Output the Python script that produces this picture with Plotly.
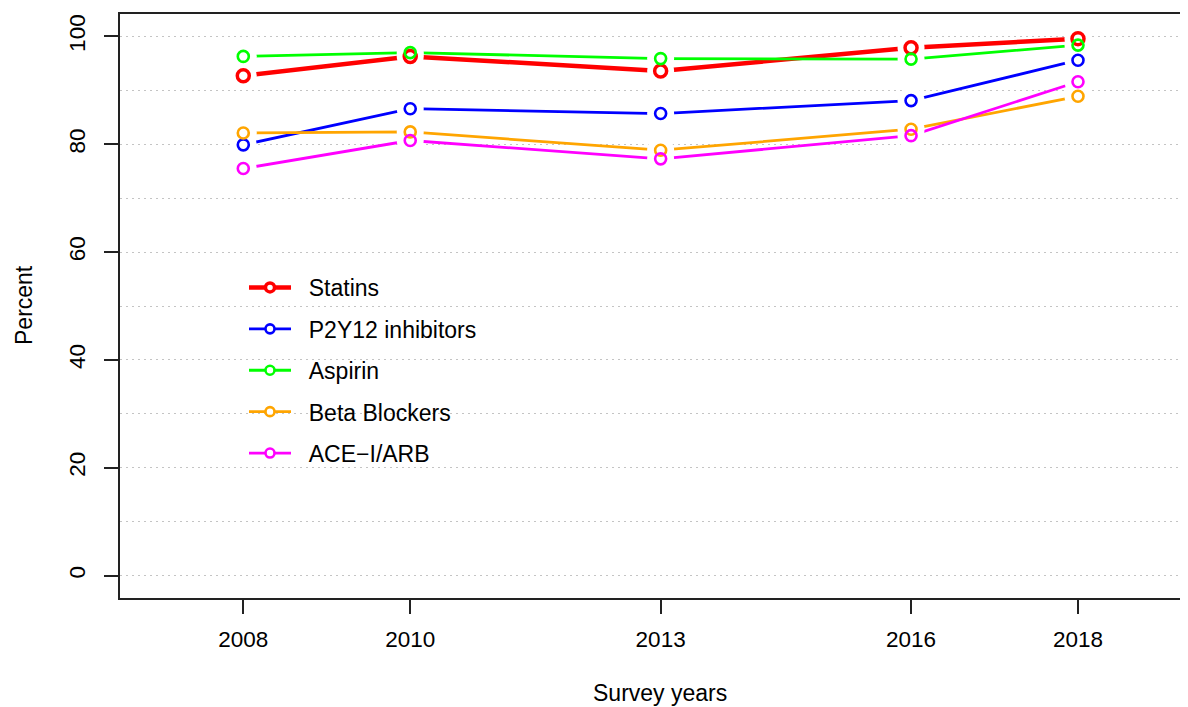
import plotly.graph_objects as go

years = [2008, 2010, 2013, 2016, 2018]
statins = [92.7, 96.3, 93.6, 97.9, 99.6]
p2y12 = [79.9, 86.6, 85.7, 88.1, 95.6]
aspirin = [96.3, 97.0, 95.9, 95.8, 98.4]
beta_blockers = [82.1, 82.3, 78.9, 82.8, 88.9]
ace_arb = [75.5, 80.7, 77.3, 81.6, 91.6]

series = [
    ("Statins", statins, "#FF0000", 4.5, 3.5, 12),
    ("P2Y12 inhibitors", p2y12, "#0000FF", 2.8, 2.6, 11),
    ("Aspirin", aspirin, "#00FF00", 2.8, 2.6, 11),
    ("Beta Blockers", beta_blockers, "#FFA500", 2.8, 2.6, 11),
    ("ACE\u2212I/ARB", ace_arb, "#FF00FF", 2.8, 2.6, 11),
]

FONT = "Liberation Sans, Arial, Helvetica, sans-serif"
W, H = 1180, 699
L, R, T, B = 112, 0, 6, 109
PW, PH = W - L - R, H - T - B


def px(xpage):
    return (xpage - 8 - L) / PW


def py(ypage):
    return (H - B - (ypage - 8)) / PH


fig = go.Figure()

for i, (name, vals, col, lw, mw, ms) in enumerate(series):
    fig.add_trace(go.Scatter(
        x=years, y=vals, name="\u00a0\u00a0" + name, mode="lines+markers",
        line=dict(color=col, width=lw),
        marker=dict(symbol="circle", size=9, color="white",
                    line=dict(color=col, width=mw)),
        legendgroup=f"g{i}",
    ))
for i, (name, vals, col, lw, mw, ms) in enumerate(series):
    fig.add_trace(go.Scatter(
        x=years, y=vals, mode="markers", showlegend=False, hoverinfo="skip",
        marker=dict(symbol="circle", size=27, color="white", line=dict(width=0)),
    ))
for i, (name, vals, col, lw, mw, ms) in enumerate(series):
    fig.add_trace(go.Scatter(
        x=years, y=vals, mode="markers", showlegend=False, hoverinfo="skip",
        marker=dict(symbol="circle-open", size=ms,
                    color=col, line=dict(color=col, width=mw)),
    ))

fig.update_layout(
    width=W, height=H,
    margin=dict(l=L, r=R, t=T, b=B),
    plot_bgcolor="white", paper_bgcolor="white",
    font=dict(family=FONT, size=22.5, color="black"),
    showlegend=True,
    legend=dict(x=px(244), y=py(266), xanchor="left", yanchor="top",
                bgcolor="rgba(0,0,0,0)", font=dict(size=23, family=FONT),
                tracegroupgap=8.5, itemwidth=42),
    xaxis=dict(
        range=[2006.523, 2019.318], tickmode="array", tickvals=years,
        ticktext=[str(y) for y in years],
        ticks="outside", ticklen=14, tickwidth=1.5, tickcolor="#222",
        ticklabelstandoff=6,
        showgrid=False, zeroline=False,
        showline=True, linecolor="#222", linewidth=1.5, mirror=True,
        tickfont=dict(size=22.5, family=FONT),
    ),
    yaxis=dict(
        range=[-4.17, 104.17], tickmode="linear", tick0=0, dtick=20,
        ticks="outside", ticklen=14, tickwidth=1.5, tickcolor="#222",
        tickangle=-90, ticklabelstandoff=10,
        showgrid=True, gridcolor="#c4c4c4", griddash="2px,4px", gridwidth=1,
        minor=dict(dtick=10, tick0=0, showgrid=True, gridcolor="#c4c4c4",
                   griddash="2px,4px", gridwidth=1, ticks=""),
        zeroline=False,
        showline=True, linecolor="#222", linewidth=1.5, mirror=False,
        tickfont=dict(size=22.5, family=FONT),
    ),
    annotations=[
        dict(text="Survey years", xref="paper", yref="paper", x=px(660),
             y=py(693), xanchor="center", yanchor="middle",
             showarrow=False, font=dict(size=23, family=FONT)),
        dict(text="Percent", xref="paper", yref="paper", x=px(24),
             y=py(305), xanchor="center", yanchor="middle", textangle=-90,
             showarrow=False, font=dict(size=23, family=FONT)),
    ],
)

fig.write_html("out.html")
